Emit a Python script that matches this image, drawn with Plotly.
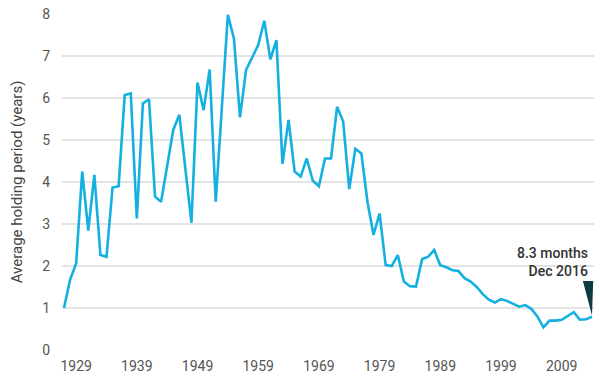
import plotly.graph_objects as go

years = list(range(1927, 2015))
holding_years = [
    1.00, 1.67, 2.06, 4.25, 2.84, 4.17, 2.26, 2.22, 3.87, 3.90,
    6.07, 6.11, 3.13, 5.87, 5.97, 3.65, 3.53, 4.40, 5.24, 5.60,
    4.35, 3.03, 6.37, 5.71, 6.68, 3.53, 5.75, 7.98, 7.42, 5.54,
    6.67, 6.97, 7.26, 7.84, 6.92, 7.38, 4.43, 5.48, 4.25, 4.13,
    4.56, 4.03, 3.90, 4.56, 4.56, 5.79, 5.44, 3.83, 4.79, 4.68,
    3.53, 2.74, 3.25, 2.02, 2.00, 2.26, 1.63, 1.52, 1.51, 2.16,
    2.22, 2.38, 2.02, 1.97, 1.90, 1.88, 1.71, 1.63, 1.50, 1.33,
    1.20, 1.13, 1.21, 1.17, 1.10, 1.03, 1.07, 0.98, 0.80, 0.54,
    0.70, 0.70, 0.72, 0.82, 0.90, 0.72, 0.73, 0.79,
]
tick_years = [1929, 1939, 1949, 1959, 1969, 1979, 1989, 1999, 2009]
y_ticks = [0, 1, 2, 3, 4, 5, 6, 7, 8]
note_text = "8.3 months<br>Dec 2016"

FONT = "Roboto"
fig = go.Figure()
fig.add_trace(go.Scatter(
    x=years, y=holding_years, mode="lines",
    line=dict(color="#14B0E0", width=2.6),
    cliponaxis=False, hoverinfo="skip", showlegend=False,
))

# marker wedge pointing at the last observation
lx, ly = years[-1], holding_years[-1]
fig.add_shape(
    type="path", xref="x", yref="y",
    path=f"M {lx-1.5},{ly+0.85} L {lx+0.2},{ly+0.85} L {lx},{ly+0.03} Z",
    fillcolor="#0E3A42", line=dict(width=0),
)
fig.add_annotation(
    x=lx, y=ly + 0.86, xref="x", yref="y", text=note_text,
    showarrow=False, xanchor="right", yanchor="bottom", align="right",
    xshift=-2, font=dict(family=FONT, size=14, color="#333333", weight=500),
)

fig.update_layout(
    width=600, height=381,
    margin=dict(l=62, r=6, t=14, b=31),
    paper_bgcolor="white", plot_bgcolor="white",
    font=dict(family=FONT, size=14, color="#555555"),
    xaxis=dict(
        range=[1926.67, 2014.33], tickvals=tick_years,
        ticktext=[str(t) for t in tick_years],
        showgrid=False, zeroline=False, showline=False,
        ticks="outside", ticklen=3, tickcolor="rgba(0,0,0,0)",
        tickfont=dict(family=FONT, size=14, color="#555555"),
    ),
    yaxis=dict(
        range=[0, 8], tickvals=y_ticks,
        showgrid=True, gridcolor="#E4E4E4", gridwidth=1.5,
        zeroline=False, showline=False,
        ticks="outside", ticklen=8, tickcolor="rgba(0,0,0,0)",
        tickfont=dict(family=FONT, size=14, color="#555555"),
        title=dict(text="Average holding period (years)", standoff=16,
                   font=dict(family=FONT, size=15, color="#444444")),
    ),
)
fig.write_html(
    "out.html",
    config={"displayModeBar": False, "staticPlot": True},
    post_script="document.body.style.margin='0';document.body.style.overflow='hidden';",
)
